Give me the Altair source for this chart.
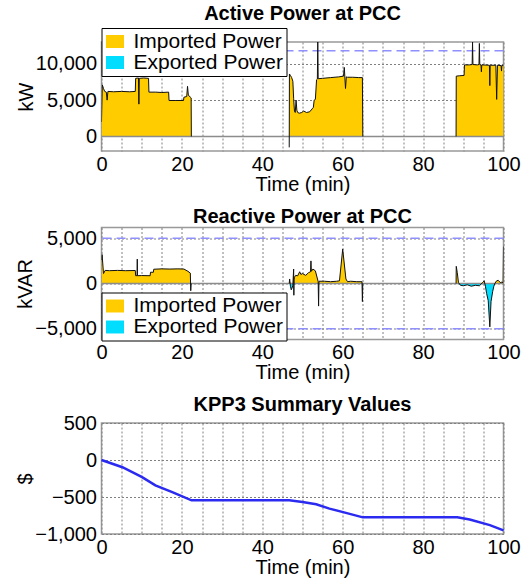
import altair as alt
import pandas as pd

FONT = "Liberation Sans"

# ---------------- data ----------------
# Active power at PCC (kW): three operating segments
p_t1 = [0.0, 0.2, 0.5, 0.8, 1.2, 1.4, 1.6, 3.0, 5.0, 7.0, 8.4, 8.5, 9.2, 9.3, 9.4, 10.5, 11.7, 11.8,
        13.5, 15.0, 16.7, 16.8, 18.5, 20.4, 20.5, 21.2, 21.4, 21.6, 22.1, 22.3, 22.35]
p_v1 = [2000, 7100, 6600, 6200, 6100, 5000, 6200, 6150, 6200, 6150, 6200, 8000, 8050, 4450, 8000, 8050, 8000, 6100,
        6100, 6050, 6100, 4950, 4950, 4950, 5400, 5500, 6900, 5700, 5400, 5300, 0]
p_t2 = [46.7, 46.75, 47.0, 47.3, 47.6, 47.8, 48.0, 48.2, 48.4, 48.6, 48.8, 49.2, 49.8, 50.3, 51.0, 51.8, 52.4,
        52.7, 52.9, 53.2, 53.5, 53.7, 53.8, 53.9, 55.0, 57.0, 59.0, 60.2, 60.4, 60.7, 60.9, 61.2, 62.5, 64.0, 64.9, 65.0]
p_v2 = [-1500, 8600, 8400, 8100, 7600, 5200, 3500, 3300, 5000, 3600, 3300, 3200, 3300, 3500, 3300, 3400, 3800,
        4000, 5000, 5100, 7800, 7900, 13000, 7950, 8000, 8100, 8200, 8300, 9500, 6600, 8200, 8150, 8150, 8100, 8100, 0]
p_t3 = [88.2, 88.25, 89.0, 90.2, 90.3, 91.5, 92.2, 92.3, 92.4, 93.5, 93.9, 94.0, 94.1, 94.4, 94.5, 94.6,
        96.5, 96.6, 96.7, 98.1, 98.3, 98.5, 99.4, 99.5, 99.6, 100.0]
p_v3 = [0, 8300, 8350, 8400, 9850, 9850, 9900, 13000, 9900, 9850, 9900, 12800, 9900, 9850, 8900, 9850,
        9800, 7000, 9800, 9800, 5100, 9800, 9750, 9000, 9800, 9750]
p_limits = [11800]

# Reactive power at PCC (kVAR)
q_t1 = [0.0, 0.15, 0.5, 0.9, 2.0, 4.0, 6.0, 8.4, 8.5, 8.85, 8.9, 8.95, 10.0, 12.1, 12.2, 12.9, 13.0,
        15.0, 17.0, 19.0, 20.5, 21.5, 22.1, 22.2, 22.3]
q_v1 = [2600, 3200, 1100, 1450, 1420, 1450, 1420, 1440, 860, 870, 2700, 860, 880, 860, 1250, 1240, 1580,
        1620, 1600, 1620, 1600, 1350, 1150, -800, 0]
q_t2 = [46.7, 46.8, 47.0, 47.2, 47.4, 47.6, 47.8, 47.85, 47.9, 48.0, 48.3, 48.8, 49.3, 49.6, 50.0, 50.8,
        51.5, 52.0, 52.1, 52.2, 52.6, 53.2, 53.9, 54.0, 54.1, 55.5, 57.0, 58.5, 59.2, 60.0, 60.8, 61.2,
        62.0, 63.5, 64.8, 64.9, 65.0]
q_v2 = [0, 500, -300, -700, -500, -200, 1600, -1300, 400, 700, 900, 850, 1300, 1000, 1100, 900,
        1200, 1300, 2500, 1350, 1600, 1400, 200, -2500, 250, 250, 200, 250, 300, 3800, 500, 200,
        250, 200, 200, -2000, 0]
q_t3 = [88.2, 88.25, 88.5, 88.8, 89.3, 90.0, 91.0, 92.0, 93.0, 94.0, 94.8, 95.2, 95.5, 95.8, 96.2, 96.6,
        96.9, 97.3, 97.6, 97.9, 98.3, 98.7, 99.2, 99.6, 99.9, 100.0]
q_v3 = [0, 1900, 1200, 100, -200, -250, -150, -300, -200, -250, 100, 300, -300, -1100, -1900, -4800,
        -2000, -900, -300, 50, 300, 350, 100, 150, 100, 4100]
q_limits = [5000, -5000]

# KPP3 summary values ($)
k_t = [0, 5.2, 10.1, 13.4, 17.6, 22.4, 46.7, 50.0, 53.4, 56.7, 60.8, 65.0, 88.5, 91.6, 96.6, 100]
k_v = [0, -98, -232, -343, -433, -545, -545, -567, -598, -657, -714, -775, -775, -804, -880, -950]

x_ticks = list(range(0, 101, 5))
legend_names = ["Imported Power", "Exported Power"]
legend_colors = ["#FFCC00", "#00DDFF"]


def seg_frame(ts, vs):
    rows = []
    for s, (tt, vv) in enumerate(zip(ts, vs)):
        for t, v in zip(tt, vv):
            rows.append({"seg": s, "t": t, "val": v,
                         "Imported Power": max(v, 0), "Exported Power": min(v, 0)})
    return pd.DataFrame(rows)


p_df = seg_frame([p_t1, p_t2, p_t3], [p_v1, p_v2, p_v3])
q_df = seg_frame([q_t1, q_t2, q_t3], [q_v1, q_v2, q_v3])
k_df = pd.DataFrame({"t": k_t, "val": k_v})

GRID = dict(grid=True, gridDash=[2, 2], gridColor="#808080", gridWidth=1, gridOpacity=1)


def x_axis():
    return alt.Axis(values=x_ticks, labelExpr="datum.value % 20 == 0 ? datum.label : ''",
                    title="Time (min)", labelFlush=False, **GRID)


def x_enc():
    return alt.X("t:Q", scale=alt.Scale(domain=[0, 100], nice=False, zero=False), axis=x_axis())


def y_axis(values, title):
    return alt.Axis(values=values, labelExpr="format(datum.value, ',')", title=title, **GRID)


def power_panel(df, limits, title, ytitle, ydomain, yvalues, legend_y, title_offset, height):
    ysc = alt.Scale(domain=ydomain, nice=False, zero=False)
    yax = y_axis(yvalues, ytitle)
    base = alt.Chart(df)
    area = base.transform_fold(legend_names, as_=["kind", "fv"]).mark_area(clip=True).encode(
        x=x_enc(),
        y=alt.Y("fv:Q", stack=None, scale=ysc, axis=yax),
        color=alt.Color("kind:N", scale=alt.Scale(domain=legend_names, range=legend_colors),
                        legend=alt.Legend(orient="none", legendX=0, legendY=legend_y, title=None,
                                          fillColor="white", strokeColor="black", padding=3,
                                          symbolType="M-1,-0.72H1V0.72H-1Z", symbolSize=324,
                                          symbolStrokeWidth=0, labelFontSize=21, labelFont=FONT,
                                          labelOffset=8, rowPadding=-2, cornerRadius=0)),
        detail="seg:N",
    )
    zero = alt.Chart(pd.DataFrame({"z": [0]})).mark_rule(color="#8c8c8c", strokeWidth=1.5).encode(
        y=alt.Y("z:Q", scale=ysc, axis=yax))
    lim = alt.Chart(pd.DataFrame({"lim": limits})).mark_rule(
        color="#8f8fff", strokeDash=[9, 5], strokeWidth=1.5).encode(
        y=alt.Y("lim:Q", scale=ysc, axis=yax))
    line = base.mark_line(color="#111111", strokeWidth=1, clip=True).encode(
        x=x_enc(), y=alt.Y("val:Q", scale=ysc, axis=yax), detail="seg:N")
    return alt.layer(area, zero, lim, line).properties(
        width=402, height=height,
        title=alt.TitleParams(title, fontSize=20, font=FONT, fontWeight="bold", anchor="middle",
                              frame="group", offset=title_offset, color="black"),
    )


top = power_panel(p_df, p_limits, "Active Power at PCC", "kW", [-2000, 13000], [0, 5000, 10000],
                  -14, 4, 109)
mid = power_panel(q_df, q_limits, "Reactive Power at PCC", "kVAR", [-6200, 6200], [-5000, 0, 5000],
                  65, 1, 112)

bottom = alt.Chart(k_df).mark_line(color="#2a2af0", strokeWidth=2.5).encode(
    x=x_enc(),
    y=alt.Y("val:Q", scale=alt.Scale(domain=[-1000, 500], nice=False, zero=False),
            axis=y_axis([-1000, -500, 0, 500], "$")),
).properties(
    width=402, height=111,
    title=alt.TitleParams("KPP3 Summary Values", fontSize=20, font=FONT, fontWeight="bold",
                          anchor="middle", frame="group", offset=-2, color="black"),
)

chart = alt.vconcat(top, mid, bottom, spacing=10.5).resolve_scale(
    color="independent", y="independent"
).resolve_legend(color="independent").properties(
    padding={"left": 14.5, "top": 2, "right": 4, "bottom": 0}
).configure_view(stroke="#999999", strokeWidth=1.5).configure_axis(
    labelFont=FONT, labelFontSize=20, labelColor="black", labelPadding=5,
    titleFont=FONT, titleFontSize=20, titleFontWeight="normal", titleColor="black",
    domain=False, ticks=False,
).configure_axisX(titlePadding=0, labelPadding=3).configure_axisY(titlePadding=-1).configure_legend(
    labelColor="black")

chart.save("out.html", embed_options={"renderer": "svg", "actions": False})
